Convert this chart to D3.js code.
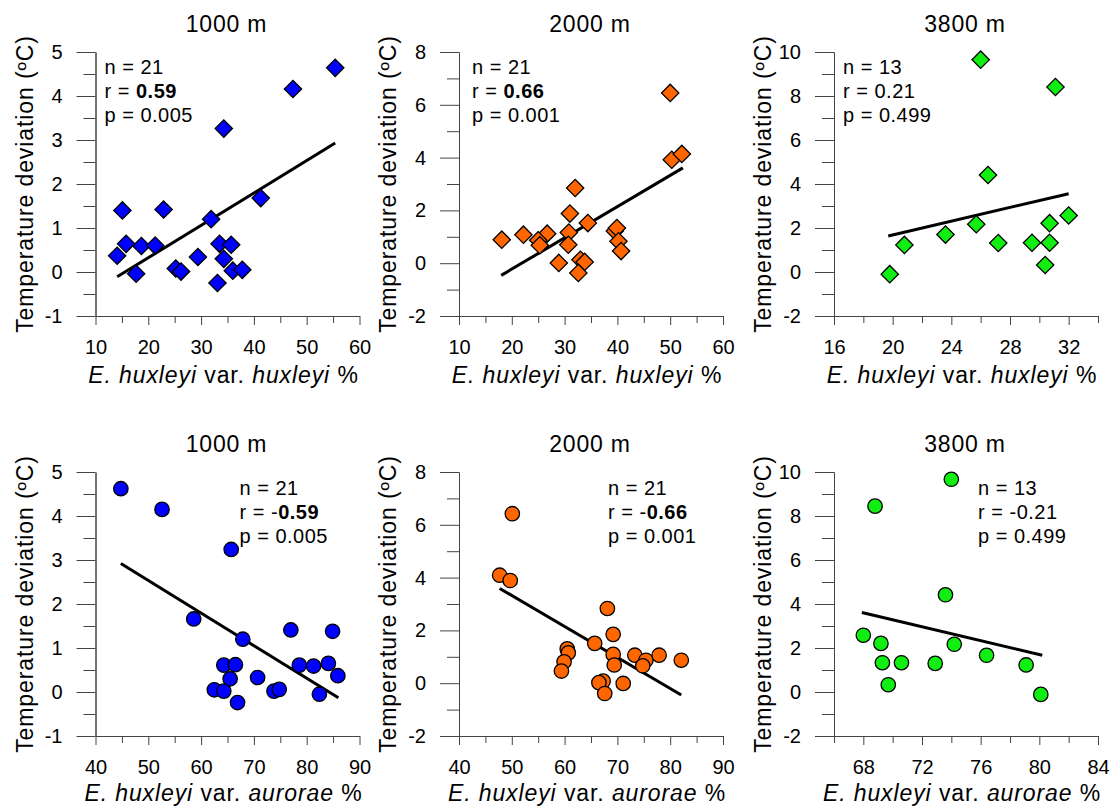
<!DOCTYPE html>
<html>
<head>
<meta charset="utf-8">
<script src="https://cdn.jsdelivr.net/npm/d3@7"></script>
<style>
  body { margin: 0; background: #fff; }
  text { font-family: "Liberation Sans", Arial, Helvetica, sans-serif; fill: #000; }
  .axis path, .axis line { stroke: #444; stroke-width: 1; }
</style>
</head>
<body>
<div id="chart"></div>
<script>
// panel titles (water depth)
var depths = ["1000 m", "2000 m", "3800 m"];

// E. huxleyi var. huxleyi %  vs  temperature deviation (ºC)
var hux1000 = [[55.4, 4.64], [47.4, 4.16], [34.3, 3.26], [41.3, 1.68], [15.1, 1.40], [22.9, 1.42],
               [31.9, 1.20], [15.8, 0.64], [18.7, 0.59], [21.3, 0.60], [33.5, 0.64], [35.7, 0.62],
               [14.1, 0.37], [29.4, 0.34], [34.3, 0.30], [17.7, -0.04], [25.2, 0.08], [26.2, 0.01],
               [36.0, 0.03], [37.8, 0.05], [33.1, -0.25]];
var hux2000 = [[50.0, 6.45], [50.3, 3.92], [52.2, 4.14], [32.0, 2.85], [31.0, 1.88], [34.4, 1.52],
               [18.1, 0.89], [22.2, 1.08], [26.7, 1.12], [25.0, 0.87], [25.3, 0.68], [30.8, 1.16],
               [30.7, 0.70], [39.5, 1.22], [39.9, 1.33], [40.2, 0.83], [40.7, 0.46], [28.9, 0.01],
               [33.0, 0.13], [33.8, 0.05], [32.6, -0.37]];
var hux3800 = [[26.0, 9.65], [31.1, 8.41], [26.5, 4.41], [32.0, 2.57], [25.7, 2.17], [30.7, 2.22],
               [23.6, 1.70], [20.8, 1.23], [27.2, 1.32], [29.5, 1.33], [30.7, 1.33], [30.4, 0.32],
               [19.8, -0.10]];

// E. huxleyi var. aurorae %  vs  temperature deviation (ºC)
var aur1000 = [[44.8, 4.62], [52.6, 4.15], [65.7, 3.24], [58.6, 1.66], [77.0, 1.41], [84.9, 1.38],
               [67.9, 1.20], [64.3, 0.61], [66.5, 0.62], [78.6, 0.61], [81.3, 0.59], [84.1, 0.65],
               [65.5, 0.30], [70.7, 0.33], [85.9, 0.37], [62.5, 0.05], [64.3, 0.02], [73.8, 0.02],
               [74.8, 0.06], [82.4, -0.05], [66.9, -0.24]];
var aur2000 = [[50.1, 6.42], [47.7, 4.09], [49.7, 3.89], [68.1, 2.83], [69.2, 1.85], [65.7, 1.51],
               [60.5, 1.30], [60.7, 1.15], [59.9, 0.81], [59.4, 0.46], [69.2, 1.09], [69.4, 0.69],
               [73.3, 1.06], [75.4, 0.87], [74.8, 0.66], [77.9, 1.06], [82.1, 0.87], [67.3, 0.08],
               [66.5, 0.02], [71.1, -0.01], [67.6, -0.39]];
var aur3800 = [[74.0, 9.67], [68.8, 8.45], [73.6, 4.42], [68.0, 2.58], [69.2, 2.21], [74.2, 2.17],
               [76.4, 1.67], [69.3, 1.33], [70.6, 1.33], [72.9, 1.30], [79.1, 1.23], [69.7, 0.33],
               [80.1, -0.11]];

// regression line end points
var fitHux1000 = [[14.1, -0.11], [55.4, 2.93]];
var fitHux2000 = [[18.0, -0.46], [52.4, 3.61]];
var fitHux3800 = [[19.7, 1.64], [32.0, 3.56]];
var fitAur1000 = [[44.8, 2.92], [86.0, -0.13]];
var fitAur2000 = [[47.7, 3.59], [82.1, -0.45]];
var fitAur3800 = [[67.9, 3.61], [80.2, 1.67]];

// statistics
var statN = ["21", "21", "13"];
var statRHux = ["0.59", "0.66", "0.21"];
var statRAur = ["0.59", "0.66", "0.21"];
var statP = ["0.005", "0.001", "0.499"];
var statBold = [true, true, false];

// axis domains and ticks
var yDomains = [[-1, 5], [-2, 8], [-2, 10]];
var yMajor = [[-1, 0, 1, 2, 3, 4, 5], [-2, 0, 2, 4, 6, 8], [-2, 0, 2, 4, 6, 8, 10]];
var yMinor = [[-0.5, 0.5, 1.5, 2.5, 3.5, 4.5], [-1, 1, 3, 5, 7], [-1, 1, 3, 5, 7, 9]];
var xDomainsHux = [[10, 60], [10, 60], [16, 34]];
var xMajorHux = [[10, 20, 30, 40, 50, 60], [10, 20, 30, 40, 50, 60], [16, 20, 24, 28, 32]];
var xMinorHux = [[15, 25, 35, 45, 55], [15, 25, 35, 45, 55], [18, 22, 26, 30, 34]];
var xDomainsAur = [[40, 90], [40, 90], [66, 84]];
var xMajorAur = [[40, 50, 60, 70, 80, 90], [40, 50, 60, 70, 80, 90], [68, 72, 76, 80, 84]];
var xMinorAur = [[45, 55, 65, 75, 85], [45, 55, 65, 75, 85], [66, 70, 74, 78, 82]];

var colors = ["#0000ff", "#ff6600", "#11ee11"];

var W = 1111, H = 808;
var colX = [95.5, 459, 834],
    rowY = [52, 472],
    pw = 264, ph = 264;

var fmt = function(d) { return String(d); };  // plain hyphen minus

var svg = d3.select("#chart")
  .append("svg")
    .attr("width", W)
    .attr("height", H);

svg.append("rect").attr("width", W).attr("height", H).attr("fill", "#fff");

var huxSets = [hux1000, hux2000, hux3800],
    aurSets = [aur1000, aur2000, aur3800],
    huxFits = [fitHux1000, fitHux2000, fitHux3800],
    aurFits = [fitAur1000, fitAur2000, fitAur3800];

for (var c = 0; c < 3; c++) {
  drawPanel(0, c, huxSets[c], huxFits[c], xDomainsHux[c], xMajorHux[c], xMinorHux[c], "huxleyi", "");
  drawPanel(1, c, aurSets[c], aurFits[c], xDomainsAur[c], xMajorAur[c], xMinorAur[c], "aurorae", "-");
}

function drawPanel(row, c, pts, fit, xDom, xMaj, xMin, varName, sign) {
  var g = svg.append("g")
      .attr("transform", "translate(" + colX[c] + "," + rowY[row] + ")");

  var x = d3.scaleLinear().domain(xDom).range([0, pw]);
  var y = d3.scaleLinear().domain(yDomains[c]).range([ph, 0]);

  // y axis: minor then major ticks
  g.append("g").attr("class", "axis")
    .call(d3.axisLeft(y).tickValues(yMinor[c]).tickSize(12).tickSizeOuter(0).tickFormat(""));
  var ya = g.append("g").attr("class", "axis")
    .call(d3.axisLeft(y).tickValues(yMajor[c]).tickSize(19).tickSizeOuter(0).tickPadding(14).tickFormat(fmt));
  ya.selectAll("text").style("font-size", "20px");

  // x axis
  g.append("g").attr("class", "axis")
    .attr("transform", "translate(0," + ph + ")")
    .call(d3.axisBottom(x).tickValues(xMin).tickSize(7).tickSizeOuter(0).tickFormat(""));
  var xa = g.append("g").attr("class", "axis")
    .attr("transform", "translate(0," + ph + ")")
    .call(d3.axisBottom(x).tickValues(xMaj).tickSize(9).tickSizeOuter(0).tickPadding(15).tickFormat(fmt));
  xa.selectAll("text").style("font-size", "20px");

  // title
  g.append("text")
    .attr("x", pw / 2 - 1)
    .attr("y", -20)
    .attr("text-anchor", "middle")
    .style("font-size", "23px")
    .style("letter-spacing", "0.8px")
    .text(depths[c]);

  // y label
  g.append("text")
    .attr("transform", "translate(-63," + (ph / 2) + ") rotate(-90)")
    .attr("text-anchor", "middle")
    .style("font-size", "23px")
    .style("letter-spacing", "0.9px")
    .text("Temperature deviation (ºC)");

  // x label
  var xl = g.append("text")
    .attr("x", pw / 2 - 4)
    .attr("y", ph + (row === 0 ? 67 : 65))
    .attr("text-anchor", "middle")
    .style("font-size", "23px")
    .style("letter-spacing", "0.9px");
  xl.append("tspan").style("font-style", "italic").text("E. huxleyi");
  xl.append("tspan").text(" var. ");
  xl.append("tspan").style("font-style", "italic").text(varName);
  xl.append("tspan").text(" %");

  // regression line
  g.append("line")
    .attr("x1", x(fit[0][0])).attr("y1", y(fit[0][1]))
    .attr("x2", x(fit[1][0])).attr("y2", y(fit[1][1]))
    .attr("stroke", "#000")
    .attr("stroke-width", 3);

  // points
  if (row === 0) {
    g.selectAll(".pt")
      .data(pts)
    .enter().append("path")
      .attr("class", "pt")
      .attr("d", d3.symbol(d3.symbolSquare, 150))
      .attr("transform", function(d) { return "translate(" + x(d[0]) + "," + y(d[1]) + ") rotate(45)"; })
      .attr("fill", colors[c])
      .attr("stroke", "#000")
      .attr("stroke-width", 1.3);
  } else {
    g.selectAll(".pt")
      .data(pts)
    .enter().append("circle")
      .attr("class", "pt")
      .attr("cx", function(d) { return x(d[0]); })
      .attr("cy", function(d) { return y(d[1]); })
      .attr("r", 7.2)
      .attr("fill", colors[c])
      .attr("stroke", "#000")
      .attr("stroke-width", 1.3);
  }

  // stats text
  var sx = row === 0 ? [9, 13, 9][c] : [144, 149, 144][c];
  var sy = row === 0 ? 22 : 23;
  var rVals = row === 0 ? statRHux : statRAur;
  var st = g.append("g").style("font-size", "20px").style("letter-spacing", "0.5px");
  st.append("text").attr("x", sx).attr("y", sy).text("n = " + statN[c]);
  var rt = st.append("text").attr("x", sx).attr("y", sy + 24);
  rt.append("tspan").text("r = " + sign);
  rt.append("tspan").style("font-weight", statBold[c] ? "bold" : "normal").text(rVals[c]);
  st.append("text").attr("x", sx).attr("y", sy + 48).text("p = " + statP[c]);
}
</script>
</body>
</html>
